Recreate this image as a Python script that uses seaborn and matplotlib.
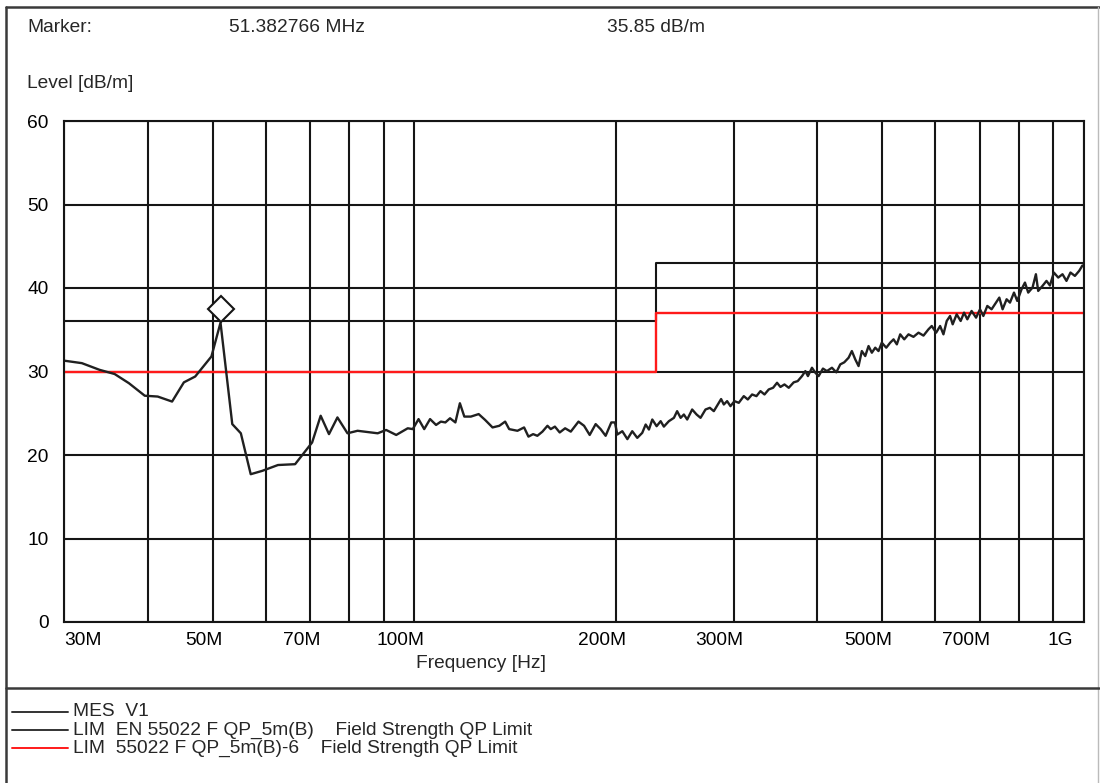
import matplotlib
matplotlib.use("Agg")
import matplotlib.pyplot as plt
import matplotlib.transforms as mtransforms
from matplotlib.lines import Line2D
from matplotlib.ticker import FixedLocator, NullFormatter
import seaborn as sns

freq_mhz = [
    30.0, 31.9, 33.9, 35.7, 37.5, 39.6, 41.4, 43.5, 45.3, 47.1, 49.8, 51.38,
    53.5, 55.1, 57.0, 59.3, 62.6, 66.4, 70.4, 72.5, 74.6, 76.8, 79.5, 82.3,
    88.2, 90.8, 94.0, 97.8, 99.5, 101.5, 103.5, 105.6, 107.8, 109.6, 111.3,
    113.1, 115.2, 117.0, 118.8, 121.5, 124.8, 127.6, 130.9, 134.0, 136.7,
    138.6, 142.6, 145.9, 148.1, 150.5, 152.7, 155.4, 158.1, 159.9, 162.2,
    164.9, 168.0, 171.3, 175.9, 179.3, 182.8, 186.6, 189.8, 193.1, 196.9,
    199.4, 201.0, 204.5, 208.1, 211.6, 215.3, 219.0, 221.6, 224.1, 226.7,
    230.1, 233.3, 235.9, 240.0, 244.2, 246.9, 249.9, 252.7, 255.6, 260.0,
    264.0, 267.6, 272.2, 276.3, 280.1, 284.0, 287.2, 289.9, 293.2, 296.6,
    300.7, 305.2, 310.5, 314.8, 319.5, 324.3, 328.8, 333.4, 338.3, 343.4,
    348.1, 352.2, 357.1, 362.4, 368.6, 373.7, 379.3, 383.7, 387.1, 392.5,
    397.1, 401.6, 407.6, 413.2, 420.4, 426.8, 432.6, 438.6, 445.2, 450.2,
    455.5, 460.7, 465.9, 471.4, 476.8, 482.2, 487.9, 493.4, 499.0, 506.7,
    513.6, 519.6, 525.5, 531.6, 539.0, 547.0, 556.4, 566.1, 575.9, 585.8,
    592.5, 601.5, 609.8, 616.8, 623.8, 631.0, 636.7, 645.5, 654.4, 662.1,
    669.6, 679.5, 690.0, 699.4, 707.5, 717.2, 727.8, 739.0, 747.4, 755.9,
    766.4, 775.3, 786.1, 795.0, 806.8, 816.3, 825.5, 837.8, 847.6, 854.3,
    867.0, 879.0, 889.4, 901.6, 915.2, 928.8, 941.5, 954.6, 969.2, 983.5,
    994.7,
]
level_db = [
    31.3, 31.0, 30.2, 29.7, 28.6, 27.1, 27.0, 26.4, 28.7, 29.4, 31.8, 35.85,
    23.7, 22.6, 17.7, 18.1, 18.8, 18.9, 21.5, 24.7, 22.5, 24.5, 22.6, 22.9,
    22.6, 23.0, 22.4, 23.2, 23.1, 24.3, 23.1, 24.3, 23.6, 24.0, 23.9,
    24.4, 23.9, 26.2, 24.6, 24.6, 24.9, 24.2, 23.3, 23.5, 24.0,
    23.1, 22.9, 23.3, 22.2, 22.5, 22.3, 22.8, 23.5, 23.1, 23.4,
    22.7, 23.2, 22.8, 24.0, 23.5, 22.4, 23.7, 23.1, 22.3, 23.9,
    23.9, 22.45, 22.85, 21.9, 22.85, 22.05, 22.65, 23.65, 23.05, 24.25,
    23.45, 24.05, 23.4, 24.05, 24.45, 25.25, 24.45, 24.85, 24.25, 25.45,
    24.85, 24.45, 25.45, 25.65, 25.25, 26.05, 26.7, 26.05, 26.45, 25.85,
    26.45, 26.25, 27.05, 26.65, 27.25, 27.05, 27.65, 27.25, 27.85, 28.05,
    28.65, 28.15, 28.45, 28.05, 28.7, 28.85, 29.45, 30.05, 29.45, 30.45,
    29.85, 29.45, 30.35, 30.05, 30.45, 29.9, 30.85, 31.1, 31.65, 32.45,
    31.45, 30.65, 32.45, 31.85, 33.05, 32.25, 32.85, 32.45, 33.45, 32.85,
    33.45, 33.85, 33.25, 34.45, 33.85, 34.45, 34.15, 34.65, 34.3, 35.05,
    35.45, 34.65, 35.45, 34.45, 36.05, 36.65, 35.65, 36.85, 36.05, 37.05,
    36.25, 37.25, 36.45, 37.45, 36.65, 37.85, 37.45, 38.25, 38.85, 37.45,
    38.65, 38.25, 39.45, 38.45, 39.85, 40.65, 39.45, 40.05, 41.65, 39.65,
    40.25, 40.85, 40.3, 41.85, 41.25, 41.65, 40.85, 41.85, 41.45, 42.05,
    42.7,
]

# limit lines (step at 230 MHz)
limit_freq = [30, 230, 1000]
limit_b = [36, 43, 43]
limit_b6 = [30, 37, 37]

marker_freq = 51.382766
marker_level = 35.85

tick_freqs = [30, 50, 70, 100, 200, 300, 500, 700, 1000]
tick_labels = ["30M", "50M", "70M", "100M", "200M", "300M", "500M", "700M", "1G"]
minor_freqs = [40, 60, 80, 90, 400, 600, 800, 900]
level_ticks = [0, 10, 20, 30, 40, 50, 60]

legend_labels = [
    "MES  V1",
    "LIM  EN 55022 F QP_5m(B)    Field Strength QP Limit",
    "LIM  55022 F QP_5m(B)-6    Field Strength QP Limit",
]

sns.set_theme(style="white")
plt.rcParams["font.family"] = ["Liberation Sans", "DejaVu Sans"]

W, H = 1100, 783
fig = plt.figure(figsize=(W / 100, H / 100), dpi=100)


def fx(x):
    return x / W


def fy(y):
    return 1 - y / H


ink = "#151515"
ax = fig.add_axes([fx(64), fy(622), fx(1084) - fx(64), fy(121) - fy(622)])
ax.set_xscale("log")
ax.set_xlim(30, 1000)
ax.set_ylim(0, 60)

ax.xaxis.set_major_locator(FixedLocator(tick_freqs))
ax.xaxis.set_minor_locator(FixedLocator(minor_freqs))
ax.xaxis.set_minor_formatter(NullFormatter())
ax.set_xticklabels(tick_labels)
ax.set_yticks(level_ticks)
ax.grid(True, which="both", color=ink, lw=1.5)
ax.set_axisbelow(True)
for s in ax.spines.values():
    s.set_color(ink)
    s.set_linewidth(1.5)
ax.tick_params(axis="both", which="both", length=0, labelsize=13.8, colors="black")
ax.tick_params(axis="y", pad=11)
ax.tick_params(axis="x", pad=7)

# shift x tick labels like the analyser software does
for lab, txt in zip(ax.get_xticklabels(), tick_labels):
    if txt == "30M":
        lab.set_ha("left")
        dx = 0.0
    elif txt == "1G":
        lab.set_ha("right")
        dx = -0.11
    else:
        lab.set_ha("right")
        dx = 0.10
    lab.set_transform(lab.get_transform() + mtransforms.ScaledTranslation(dx, 0, fig.dpi_scale_trans))

sns.lineplot(x=limit_freq, y=limit_b, ax=ax, color=ink, lw=1.5, drawstyle="steps-post", estimator=None)
sns.lineplot(x=limit_freq, y=limit_b6, ax=ax, color="#ff1a1a", lw=1.7, drawstyle="steps-post", estimator=None)
sns.lineplot(x=freq_mhz, y=level_db, ax=ax, color="#202020", lw=1.7, estimator=None, sort=False)

# marker diamond sits just above the marked point
mark_tr = mtransforms.offset_copy(ax.transData, fig=fig, y=14, units="dots")
ax.plot([marker_freq], [marker_level], marker="D", ms=13.5, mfc="white", mec=ink, mew=1.5,
        transform=mark_tr, clip_on=False, zorder=5)

# header texts
fs = 13.8
fig.text(fx(27), fy(28), "Marker:", fontsize=fs, va="center")
fig.text(fx(229), fy(28), f"{marker_freq:.6f} MHz", fontsize=fs, va="center")
fig.text(fx(607), fy(28), f"{marker_level:.2f} dB/m", fontsize=fs, va="center")
fig.text(fx(27), fy(83), "Level [dB/m]", fontsize=fs, va="center")
fig.text(fx(481), fy(664), "Frequency [Hz]", fontsize=fs, va="center", ha="center")

# outer frame and divider
frame = "#3a3a3a"
fig.add_artist(Line2D([fx(6), fx(1099)], [fy(7), fy(7)], color=frame, lw=1.8))
fig.add_artist(Line2D([fx(6), fx(6)], [fy(7), 0], color=frame, lw=1.8))
fig.add_artist(Line2D([fx(1098), fx(1098)], [fy(7), 0], color="#bbbbbb", lw=1.0))
fig.add_artist(Line2D([fx(6), fx(1099)], [fy(688), fy(688)], color=frame, lw=1.8))

# legend
leg_colors = ["#333333", "#333333", "#ff1a1a"]
for i, (lab, col) in enumerate(zip(legend_labels, leg_colors)):
    yy = 712 + 18 * i
    fig.add_artist(Line2D([fx(12), fx(68)], [fy(yy), fy(yy)], color=col, lw=1.4))
    fig.text(fx(73), fy(yy), lab, fontsize=fs, va="center")

fig.savefig("out.png", dpi=100)
